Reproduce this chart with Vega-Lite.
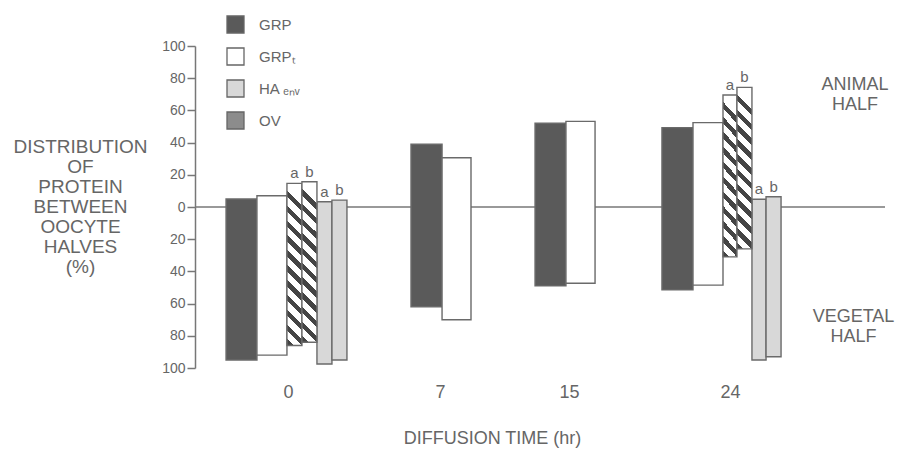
{
  "$schema": "https://vega.github.io/schema/vega-lite/v6.json",
  "autosize": "none",
  "width": 690,
  "height": 322,
  "padding": {"left": 195, "top": 46, "right": 17, "bottom": 82},
  "config": {
    "font": "Liberation Sans",
    "view": {"stroke": null},
    "axis": {"grid": false, "labelColor": "#666", "titleColor": "#666", "domainColor": "#777", "tickColor": "#777", "titleFontWeight": "normal", "labelFont": "Liberation Sans", "titleFont": "Liberation Sans"},
    "axisY": {"labelOverlap": false, "domain": true, "ticks": true, "tickSize": 8, "tickWidth": 1.5, "domainWidth": 1.5, "labelPadding": 2, "labelFontSize": 14, "domainColor": "#777", "tickColor": "#777", "labelFlush": false}
  },
  "data": {
    "values": [
      {"time": "0", "series": "GRP", "sub": "", "x0": 2.07, "x1": 4.13, "hi": 5, "lo": -95},
      {"time": "0", "series": "GRPₜ", "sub": "", "x0": 4.13, "x1": 6.13, "hi": 7, "lo": -92},
      {"time": "0", "series": "OV", "sub": "a", "x0": 6.13, "x1": 7.13, "hi": 14.7, "lo": -86},
      {"time": "0", "series": "OV", "sub": "b", "x0": 7.13, "x1": 8.13, "hi": 15.7, "lo": -84},
      {"time": "0", "series": "HA ₑₙᵥ", "sub": "a", "x0": 8.13, "x1": 9.13, "hi": 3.3, "lo": -97.5},
      {"time": "0", "series": "HA ₑₙᵥ", "sub": "b", "x0": 9.13, "x1": 10.13, "hi": 4.3, "lo": -95},
      {"time": "7", "series": "GRP", "sub": "", "x0": 14.4, "x1": 16.47, "hi": 39, "lo": -62},
      {"time": "7", "series": "GRPₜ", "sub": "", "x0": 16.47, "x1": 18.4, "hi": 30.6, "lo": -70},
      {"time": "15", "series": "GRP", "sub": "", "x0": 22.67, "x1": 24.73, "hi": 52, "lo": -49},
      {"time": "15", "series": "GRPₜ", "sub": "", "x0": 24.73, "x1": 26.67, "hi": 53.2, "lo": -47.4},
      {"time": "24", "series": "GRP", "sub": "", "x0": 31.13, "x1": 33.2, "hi": 49.3, "lo": -51.5},
      {"time": "24", "series": "GRPₜ", "sub": "", "x0": 33.2, "x1": 35.2, "hi": 52.4, "lo": -48.5},
      {"time": "24", "series": "OV", "sub": "a", "x0": 35.2, "x1": 36.13, "hi": 69.6, "lo": -31},
      {"time": "24", "series": "OV", "sub": "b", "x0": 36.13, "x1": 37.13, "hi": 74.3, "lo": -26},
      {"time": "24", "series": "HA ₑₙᵥ", "sub": "a", "x0": 37.13, "x1": 38.07, "hi": 4.8, "lo": -95},
      {"time": "24", "series": "HA ₑₙᵥ", "sub": "b", "x0": 38.07, "x1": 39.07, "hi": 6.4, "lo": -93}
    ]
  },
  "layer": [
    {
      "data": {"values": [{}]},
      "mark": {"type": "rule", "color": "#777", "strokeWidth": 1.5},
      "encoding": {"y": {"datum": 0, "type": "quantitative", "scale": {"domain": [-100, 100], "nice": false},
        "axis": {"values": [-100, -80, -60, -40, -20, 0, 20, 40, 60, 80, 100], "labelExpr": "abs(datum.value)", "labelOverlap": false, "domain": true, "ticks": true,
            "title": ["DISTRIBUTION", "OF", "PROTEIN", "BETWEEN", "OOCYTE", "HALVES", "(%)"], "titleAngle": 0, "titleAlign": "center", "titleBaseline": "middle", "titleX": -115, "titleY": 100, "titleFontSize": 19, "titleLineHeight": 20}}}
    },
    {
      "transform": [{"filter": "datum.series !== 'OV'"}],
      "mark": {"type": "bar", "stroke": "#6a6a6a", "strokeWidth": 1.4, "opacity": 1},
      "encoding": {
        "x": {"field": "x0", "type": "quantitative", "scale": {"domain": [0, 46], "nice": false, "zero": false},
          "axis": {"values": [6.2, 16.33, 24.93, 35.67], "labelExpr": "datum.value < 10 ? '0' : datum.value < 20 ? '7' : datum.value < 30 ? '15' : '24'", "domain": false, "ticks": false, "tickSize": 0, "labelPadding": 15, "labelFontSize": 18, "title": "DIFFUSION TIME (hr)", "titleFontSize": 18, "titleX": 297, "titleY": 70, "titleAlign": "center", "titleBaseline": "middle", "titleAnchor": null}},
        "x2": {"field": "x1"},
        "y": {"field": "hi", "type": "quantitative",
          "axis": {"values": [-100, -80, -60, -40, -20, 0, 20, 40, 60, 80, 100], "labelExpr": "abs(datum.value)", "labelOverlap": false, "domain": true, "ticks": true,
            "title": ["DISTRIBUTION", "OF", "PROTEIN", "BETWEEN", "OOCYTE", "HALVES", "(%)"], "titleAngle": 0, "titleAlign": "center", "titleBaseline": "middle", "titleX": -115, "titleY": 100, "titleFontSize": 19, "titleLineHeight": 20}},
        "y2": {"field": "lo"},
        "color": {"field": "series", "type": "nominal",
          "scale": {"domain": ["GRP", "GRPₜ", "HA ₑₙᵥ", "OV"], "range": ["#5a5a5a", "#ffffff", "#d8d8d8", "#8c8c8c"]},
          "legend": {"title": null, "orient": "none", "legendX": 31, "legendY": -31, "padding": 0, "symbolType": "square", "symbolSize": 289, "symbolStrokeColor": "#666", "symbolStrokeWidth": 1.3, "symbolOpacity": 1, "labelFontSize": 15, "labelColor": "#666", "labelOffset": 14, "rowPadding": 9,
            "encode": {"symbols": {"update": {
              "stroke": {"value": "#666"},
              "strokeWidth": {"value": 1.3}
            }}}}
        }
      }
    },
    {
      "transform": [{"filter": "datum.series === 'OV'"}],
      "mark": {"type": "bar", "stroke": "#6a6a6a", "strokeWidth": 1.4, "fill": {"gradient": "linear", "x1": 0, "y1": 1, "x2": 0.093, "y2": 0, "stops": [
        {"offset": 0, "color": "#444"}, {"offset": 0.04, "color": "#444"}, {"offset": 0.04, "color": "#fff"}, {"offset": 0.0909, "color": "#fff"},
        {"offset": 0.0909, "color": "#444"}, {"offset": 0.1309, "color": "#444"}, {"offset": 0.1309, "color": "#fff"}, {"offset": 0.1818, "color": "#fff"},
        {"offset": 0.1818, "color": "#444"}, {"offset": 0.2218, "color": "#444"}, {"offset": 0.2218, "color": "#fff"}, {"offset": 0.2727, "color": "#fff"},
        {"offset": 0.2727, "color": "#444"}, {"offset": 0.3127, "color": "#444"}, {"offset": 0.3127, "color": "#fff"}, {"offset": 0.3636, "color": "#fff"},
        {"offset": 0.3636, "color": "#444"}, {"offset": 0.4036, "color": "#444"}, {"offset": 0.4036, "color": "#fff"}, {"offset": 0.4545, "color": "#fff"},
        {"offset": 0.4545, "color": "#444"}, {"offset": 0.4945, "color": "#444"}, {"offset": 0.4945, "color": "#fff"}, {"offset": 0.5455, "color": "#fff"},
        {"offset": 0.5455, "color": "#444"}, {"offset": 0.5855, "color": "#444"}, {"offset": 0.5855, "color": "#fff"}, {"offset": 0.6364, "color": "#fff"},
        {"offset": 0.6364, "color": "#444"}, {"offset": 0.6764, "color": "#444"}, {"offset": 0.6764, "color": "#fff"}, {"offset": 0.7273, "color": "#fff"},
        {"offset": 0.7273, "color": "#444"}, {"offset": 0.7673, "color": "#444"}, {"offset": 0.7673, "color": "#fff"}, {"offset": 0.8182, "color": "#fff"},
        {"offset": 0.8182, "color": "#444"}, {"offset": 0.8582, "color": "#444"}, {"offset": 0.8582, "color": "#fff"}, {"offset": 0.9091, "color": "#fff"},
        {"offset": 0.9091, "color": "#444"}, {"offset": 0.9491, "color": "#444"}, {"offset": 0.9491, "color": "#fff"}, {"offset": 1, "color": "#fff"}]}},
      "encoding": {
        "x": {"field": "x0", "type": "quantitative"},
        "x2": {"field": "x1"},
        "y": {"field": "hi", "type": "quantitative",
          "axis": {"values": [-100, -80, -60, -40, -20, 0, 20, 40, 60, 80, 100], "labelExpr": "abs(datum.value)", "labelOverlap": false, "domain": true, "ticks": true,
            "title": ["DISTRIBUTION", "OF", "PROTEIN", "BETWEEN", "OOCYTE", "HALVES", "(%)"], "titleAngle": 0, "titleAlign": "center", "titleBaseline": "middle", "titleX": -115, "titleY": 100, "titleFontSize": 19, "titleLineHeight": 20}},
        "y2": {"field": "lo"}
      }
    },
    {
      "transform": [{"filter": "datum.sub !== ''"}, {"calculate": "(datum.x0 + datum.x1) / 2", "as": "mid"}],
      "mark": {"type": "text", "fontSize": 15, "color": "#666", "baseline": "alphabetic", "dy": -5},
      "encoding": {
        "x": {"field": "mid", "type": "quantitative"},
        "y": {"field": "hi", "type": "quantitative",
          "axis": {"values": [-100, -80, -60, -40, -20, 0, 20, 40, 60, 80, 100], "labelExpr": "abs(datum.value)", "labelOverlap": false, "domain": true, "ticks": true,
            "title": ["DISTRIBUTION", "OF", "PROTEIN", "BETWEEN", "OOCYTE", "HALVES", "(%)"], "titleAngle": 0, "titleAlign": "center", "titleBaseline": "middle", "titleX": -115, "titleY": 100, "titleFontSize": 19, "titleLineHeight": 20}},
        "text": {"field": "sub"}
      }
    },
    {
      "data": {"values": [{}]},
      "mark": {"type": "text", "text": ["ANIMAL", "HALF"], "fontSize": 18, "lineHeight": 20, "color": "#666", "align": "center", "baseline": "middle"},
      "encoding": {"x": {"datum": 44, "type": "quantitative"}, "y": {"datum": 76, "type": "quantitative",
          "axis": {"values": [-100, -80, -60, -40, -20, 0, 20, 40, 60, 80, 100], "labelExpr": "abs(datum.value)", "labelOverlap": false, "domain": true, "ticks": true,
            "title": ["DISTRIBUTION", "OF", "PROTEIN", "BETWEEN", "OOCYTE", "HALVES", "(%)"], "titleAngle": 0, "titleAlign": "center", "titleBaseline": "middle", "titleX": -115, "titleY": 100, "titleFontSize": 19, "titleLineHeight": 20}}}
    },
    {
      "data": {"values": [{}]},
      "mark": {"type": "text", "text": ["VEGETAL", "HALF"], "fontSize": 18, "lineHeight": 20, "color": "#666", "align": "center", "baseline": "middle"},
      "encoding": {"x": {"datum": 43.9, "type": "quantitative"}, "y": {"datum": -68.3, "type": "quantitative",
          "axis": {"values": [-100, -80, -60, -40, -20, 0, 20, 40, 60, 80, 100], "labelExpr": "abs(datum.value)", "labelOverlap": false, "domain": true, "ticks": true,
            "title": ["DISTRIBUTION", "OF", "PROTEIN", "BETWEEN", "OOCYTE", "HALVES", "(%)"], "titleAngle": 0, "titleAlign": "center", "titleBaseline": "middle", "titleX": -115, "titleY": 100, "titleFontSize": 19, "titleLineHeight": 20}}}
    }
  ]
}
